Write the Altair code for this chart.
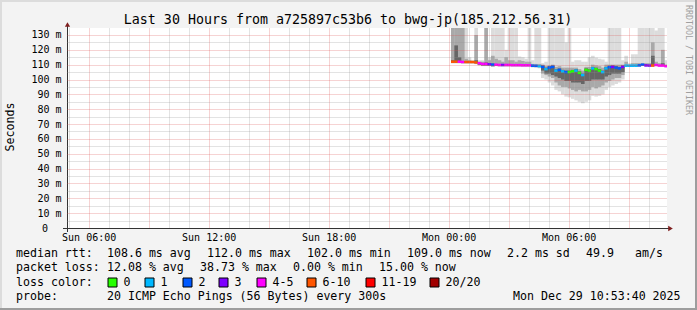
import altair as alt
import pandas as pd

FONT = "DejaVu Sans Mono"

# ---------------- data ----------------
loss_labels = ["0", "1", "2", "3", "4-5", "6-10", "11-19", "20/20"]
loss_colors = ["#26ff00", "#00b8ff", "#0059ff", "#7e00ff", "#ff00ff", "#ff5500", "#ff0000", "#a10000"]

first_sample = 24 + 7 / 60      # Mon 00:07 (hours after Sun 00:00)
sample_step = 10 / 60           # one bin = 10 minutes

median_ms = [
    112.0, 112.0, 112.0, 111.8, 111.8, 111.8, 111.8, 111.5, 111.0, 110.5,
    110.5, 110.3, 110.0, 110.0, 109.8, 109.8, 109.8, 109.8, 109.7, 109.7,
    109.7, 109.6, 109.6, 109.6, 109.3, 109.2, 109.0, 108.5, 107.0, 108.0,
    108.5, 106.0, 106.5, 105.5, 105.0, 105.0, 105.5, 106.0, 104.5, 103.0,
    106.5, 106.0, 107.5, 107.0, 106.0, 105.0, 107.5, 108.3, 108.5, 108.0,
    107.5, 108.5, 109.3, 109.3, 109.3, 109.3, 109.5, 110.0, 109.5, 109.4,
    109.4, 109.8, 109.4, 109.4, 109.0]

loss = [
    "6-10", "6-10", "4-5", "4-5", "6-10", "6-10", "6-10", "6-10", "4-5", "4-5",
    "4-5", "3", "2", "4-5", "4-5", "3", "4-5", "4-5", "4-5", "4-5",
    "4-5", "4-5", "4-5", "4-5", "2", "2", "1", "2", "1", "2",
    "2", "1", "2", "1", "2", "0", "0", "1", "0", "1",
    "0", "0", "1", "0", "0", "1", "1", "2", "3", "2",
    "2", "3", "1", "1", "1", "1", "2", "2", "3", "3",
    "6-10", "4-5", "4-5", "4-5", "4-5"]

max_ms = [
    150, 150, 150, 150, 150, 115, 113, 150, 113, 113,
    150, 115, 150, 150, 150, 150, 120, 150, 150, 150,
    115.5, 115, 114, 150, 113, 150, 150, 111, 112, 150,
    150, 150, 150, 150, 125, 150, 112, 113, 113, 112,
    112, 115, 116, 114.7, 114, 113.5, 112, 150, 150, 150,
    150, 113, 116, 111, 117, 117, 150, 150, 150, 150,
    150, 133, 150, 150, 113]

p90_ms = [
    140, 150, 135, 140, 114, 113, 112.5, 130, 112, 112,
    135, 113, 116, 114, 113, 112, 115, 113, 113, 112,
    113, 112.5, 112, 112, 110.5, 110.5, 110.5, 110, 109, 109.5,
    110, 108.5, 109, 108, 108, 108, 108, 108, 107, 106,
    108.5, 108.5, 110, 109.5, 109, 108, 110, 110, 110, 110,
    110, 110, 112, 110, 111, 111, 111, 111, 111, 111,
    125, 112, 111, 120, 110]

p75_ms = [
    113, 123, 115, 112.5, 112.3, 112.3, 112.2, 113, 111.5, 111,
    111.5, 110.8, 110.8, 110.5, 110.2, 110.2, 110.5, 110.2, 110.1, 110.1,
    110.3, 110.1, 110.0, 110.0, 109.8, 109.7, 109.5, 109.5, 108.0, 109.0,
    109.5, 107.0, 107.5, 106.5, 106.0, 106.0, 106.5, 107.0, 105.5, 104.0,
    107.5, 107.0, 108.5, 108.0, 107.0, 106.0, 108.5, 109.3, 109.5, 109.0,
    108.5, 109.5, 109.7, 109.7, 109.7, 109.7, 109.9, 110.4, 109.9, 109.8,
    116, 110.2, 109.8, 111, 109.4]

p25_ms = [
    111.5, 111.5, 111.5, 111.3, 111.3, 111.3, 111.3, 111.0, 110.0, 109.5,
    109.5, 109.5, 109.0, 109.5, 109.3, 109.3, 109.3, 109.3, 109.2, 109.2,
    109.2, 109.1, 109.1, 109.1, 108.8, 108.7, 108.5, 106, 104, 104,
    103, 102, 101, 100, 99, 99, 98, 98, 98, 97,
    99, 99, 100, 100, 100, 100, 102, 103, 104, 104,
    104, 105, 109.0, 109.0, 109.0, 109.0, 109.2, 109.7, 109.2, 109.1,
    109.1, 109.5, 109.1, 109.1, 108.7]

p10_ms = [
    111.2, 111.2, 111.2, 111.0, 111.0, 111.0, 111.0, 110.7, 109.7, 109.2,
    109.2, 109.2, 108.8, 109.2, 109.0, 109.0, 109.0, 109.0, 108.9, 108.9,
    108.9, 108.8, 108.8, 108.8, 108.5, 108.4, 108.2, 104, 103, 102,
    101, 98, 96, 95, 95, 94, 93, 92, 93, 92,
    92, 93, 95, 94, 95, 96, 98, 99, 100, 101,
    101, 103, 108.8, 108.8, 108.8, 108.8, 109.0, 109.5, 109.0, 108.9,
    108.9, 109.3, 108.9, 108.9, 108.5]

min_ms = [
    110.8, 110.8, 110.8, 110.6, 110.6, 110.6, 110.6, 110.3, 109.5, 109.0,
    109.0, 109.0, 108.5, 109.0, 108.6, 108.6, 108.6, 108.6, 108.5, 108.5,
    108.5, 108.4, 108.4, 108.4, 108.1, 108.0, 107.5, 101, 100, 98,
    96, 93, 92, 90, 88.5, 88, 87, 86, 85, 84,
    85, 86, 89, 88.5, 89, 90, 93, 95, 96, 97,
    98, 100, 108.5, 108.5, 108.5, 108.5, 108.7, 109.2, 108.7, 108.6,
    108.6, 109.0, 108.6, 108.6, 108.2]

tick_hours = [6, 12, 18, 24, 30]
tick_labels = ["Sun 06:00", "Sun 12:00", "Sun 18:00", "Mon 00:00", "Mon 06:00"]

title_text = "Last 30 Hours from a725897c53b6 to bwg-jp(185.212.56.31)"
legend_row1 = ["median rtt:", "108.6 ms avg", "112.0 ms max", "102.0 ms min",
               "109.0 ms now", "2.2 ms sd", "49.9", "am/s"]
legend_row2 = ["packet loss:", "12.08 % avg", "38.73 % max", "0.00 % min", "15.00 % now"]
legend_row3 = ["loss color:"]
legend_row4 = ["probe:", "20 ICMP Echo Pings (56 Bytes) every 300s", "Mon Dec 29 10:53:40 2025"]
zero_label = "0"

# ---------------- layout (pixels in the 697x310 image) ----------------
PL, PT, PW, PH = 67, 28, 600, 200
row1_x = [16, 107, 207, 307, 407, 507, 586, 635]
row2_x = [16, 107, 200, 293, 379]
row4_x = [16, 107, 513]
row_y = [257, 271, 285.5, 299.5]
box_x = [108, 145, 183, 219, 257, 307, 366, 430]

x_dom = [4 + 55 / 60, 34 + 55 / 60]
y_dom = [0, 134.7]

n = len(median_ms)
smoke = pd.DataFrame({
    "t0": [first_sample + i * sample_step for i in range(n)],
    "med": median_ms, "loss": loss,
    "mx": max_ms, "p90": p90_ms, "p75": p75_ms,
    "p25": p25_ms, "p10": p10_ms, "mn": min_ms,
})
smoke["t1"] = smoke["t0"] + sample_step
smoke["t1r"] = smoke["t1"] + 0.015

lab_expr = " : ".join(f"datum.value == {h} ? '{l}'" for h, l in zip(tick_hours, tick_labels)) + " : ''"

x_axis = alt.Axis(
    values=list(range(5, 35)), title=None, domain=False, ticks=False,
    grid=True, gridDash=[1, 1], gridOpacity=0.5,
    gridColor={"condition": {"test": "datum.value % 3 == 0", "value": "#DE5050"}, "value": "#8F8F8F"},
    labelExpr=lab_expr, labelFont=FONT, labelFontSize=10, labelColor="black",
    labelPadding=4, labelOverlap=False, labelFlush=False, labelBound=False, zindex=1)

y_axis = alt.Axis(
    values=list(range(5, 135, 5)), title=None, domain=False, ticks=False,
    grid=True, gridDash=[1, 1], gridOpacity=0.5,
    gridColor={"condition": {"test": "datum.value % 10 == 0", "value": "#DE5050"}, "value": "#8F8F8F"},
    labelExpr="datum.value % 10 == 0 ? datum.value + ' m' : ''",
    labelFont=FONT, labelFontSize=10, labelColor="black", labelPadding=6,
    labelOverlap=False, labelFlush=False, labelBound=False, zindex=1)

xs = alt.Scale(domain=x_dom, nice=False, zero=False)
ys = alt.Scale(domain=y_dom, nice=False, zero=False)

base = alt.Chart(smoke)


def band(lo, hi, col):
    return base.mark_rect(clip=True, color=col).encode(
        x=alt.X("t0:Q", scale=xs, axis=x_axis),
        x2="t1r:Q",
        y=alt.Y(f"{lo}:Q", scale=ys, axis=y_axis),
        y2=f"{hi}:Q")


outer = band("mn", "mx", "#DCDCDC")
mid = band("p10", "p90", "#A9A9A9")
inner = band("p25", "p75", "#666666")
med = base.mark_rule(clip=True, strokeWidth=2.5, strokeCap="butt").encode(
    x=alt.X("t0:Q", scale=xs, axis=x_axis),
    x2="t1:Q",
    y=alt.Y("med:Q", scale=ys, axis=y_axis),
    color=alt.Color("loss:N", scale=alt.Scale(domain=loss_labels, range=loss_colors), legend=None))

data_group = alt.layer(outer, mid, inner, med)

# ---------------- annotations (pixel positions) ----------------
def pos(x, y):
    return x - PL, y - PT


def text_df(items):
    rows = []
    for t, x, y in items:
        px, py = pos(x, y)
        rows.append({"text": t, "px": px, "py": py})
    return pd.DataFrame(rows)


def text_layer(df, size, color="black", angle=0, align="left", baseline="alphabetic"):
    return alt.Chart(df).mark_text(font=FONT, fontSize=size, color=color, angle=angle,
                                   align=align, baseline=baseline).encode(
        x=alt.X("px:Q", scale=None, axis=None),
        y=alt.Y("py:Q", scale=None, axis=None),
        text="text:N")


legend_items = []
legend_items += [(t, x, row_y[0]) for t, x in zip(legend_row1, row1_x)]
legend_items += [(t, x, row_y[1]) for t, x in zip(legend_row2, row2_x)]
legend_items += [(legend_row3[0], 16, row_y[2])]
legend_items += [(t, bx + 15.5, row_y[2]) for t, bx in zip(loss_labels, box_x)]
legend_items += [(t, x, row_y[3]) for t, x in zip(legend_row4, row4_x)]

legend_text = text_layer(text_df(legend_items), 11.6)
title_layer = text_layer(text_df([(title_text, 348, 23.5)]), 13.3, align="center")
ytitle_layer = text_layer(text_df([("Seconds", 10.5, 127)]), 11.6, angle=270,
                          align="center", baseline="middle")
water_layer = text_layer(text_df([("RRDTOOL / TOBI OETIKER", 688, 60)]), 8.3,
                         color="#9F9F9F", angle=90, align="center", baseline="middle")
zero_layer = text_layer(text_df([(zero_label, 48, 228.5)]), 10, align="right", baseline="middle")


def rect_df(items):
    rows = []
    for x0, y0, x1, y1, c in items:
        a, b = pos(x0, y0)
        cc, d = pos(x1, y1)
        rows.append({"x0": a, "y0": b, "x1": cc, "y1": d, "c": c})
    return pd.DataFrame(rows)


def rect_layer(df, **kw):
    return alt.Chart(df).mark_rect(**kw).encode(
        x=alt.X("x0:Q", scale=None, axis=None), x2="x1:Q",
        y=alt.Y("y0:Q", scale=None, axis=None), y2="y1:Q",
        color=alt.Color("c:N", scale=None, legend=None))


boxes = rect_layer(rect_df([(bx, 278, bx + 9, 287, c) for bx, c in zip(box_x, loss_colors)]),
                   stroke="black", strokeWidth=1)

frame = rect_layer(rect_df([
    (0, 0, 697, 2, "#DCDCDC"),
    (0, 0, 2, 310, "#DCDCDC"),
    (0, 308, 697, 310, "#9D9D9D"),
    (695, 0, 697, 310, "#9D9D9D"),
    (67, 24, 68, 232, "#333333"),
    (63, 228, 670, 229, "#333333"),
]))

arrow_df = pd.DataFrame([
    {"px": pos(67.5, 24.5)[0], "py": pos(67.5, 24.5)[1], "shp": "triangle-up"},
    {"px": pos(670.5, 228.5)[0], "py": pos(670.5, 228.5)[1], "shp": "triangle-right"},
])
arrows = alt.Chart(arrow_df).mark_point(filled=True, size=28, color="#7F1F1F", opacity=1).encode(
    x=alt.X("px:Q", scale=None, axis=None),
    y=alt.Y("py:Q", scale=None, axis=None),
    shape=alt.Shape("shp:N", scale=None, legend=None))

chart = alt.layer(
    data_group, frame, arrows, boxes, legend_text, title_layer, ytitle_layer, water_layer, zero_layer
).resolve_scale(
    x="independent", y="independent", color="independent", shape="independent"
).properties(
    width=PW, height=PH,
    padding={"left": PL, "top": PT, "right": 697 - PL - PW, "bottom": 310 - PT - PH},
    autosize=alt.AutoSizeParams(type="none"),
    background="#F3F3F3",
).configure_view(fill="white", stroke=None)

chart.save("out.html", embed_options={"renderer": "svg", "actions": False})
